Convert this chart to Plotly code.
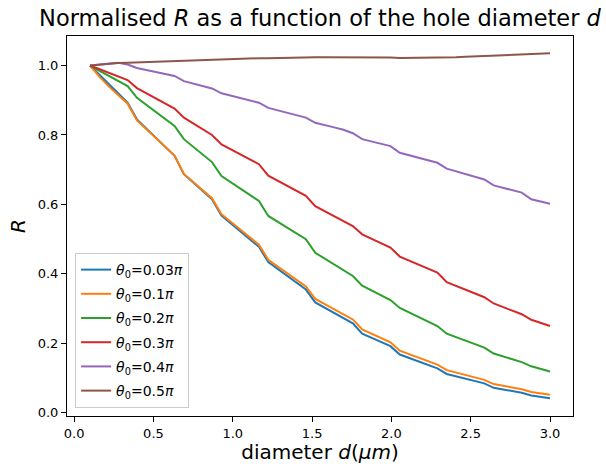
import plotly.graph_objects as go

# hole diameter d (um), 50 samples from 0.1 to 3.0
diameter = [0.100, 0.159, 0.218, 0.278, 0.337, 0.396, 0.455, 0.514, 0.573, 0.633,
            0.692, 0.751, 0.810, 0.869, 0.929, 0.988, 1.047, 1.106, 1.165, 1.224,
            1.284, 1.343, 1.402, 1.461, 1.520, 1.580, 1.639, 1.698, 1.757, 1.816,
            1.876, 1.935, 1.994, 2.053, 2.112, 2.171, 2.231, 2.290, 2.349, 2.408,
            2.467, 2.527, 2.586, 2.645, 2.704, 2.763, 2.822, 2.882, 2.941, 3.000]

# normalised R for each incidence angle theta_0
r_003 = [1.000, 0.973, 0.946, 0.920, 0.893, 0.845, 0.819, 0.792, 0.766, 0.740,
         0.687, 0.663, 0.639, 0.615, 0.568, 0.545, 0.523, 0.500, 0.478, 0.434,
         0.414, 0.395, 0.375, 0.355, 0.318, 0.303, 0.288, 0.273, 0.258, 0.228,
         0.216, 0.204, 0.192, 0.168, 0.158, 0.148, 0.138, 0.128, 0.112, 0.105,
         0.098, 0.091, 0.085, 0.072, 0.068, 0.063, 0.058, 0.050, 0.046, 0.042]
r_01 = [1.000, 0.968, 0.940, 0.915, 0.890, 0.842, 0.817, 0.791, 0.766, 0.741,
        0.688, 0.665, 0.641, 0.618, 0.572, 0.550, 0.528, 0.506, 0.484, 0.441,
        0.421, 0.402, 0.383, 0.364, 0.328, 0.313, 0.298, 0.283, 0.269, 0.240,
        0.227, 0.215, 0.203, 0.179, 0.169, 0.159, 0.149, 0.139, 0.123, 0.116,
        0.109, 0.102, 0.095, 0.083, 0.078, 0.073, 0.068, 0.060, 0.056, 0.052]
r_02 = [1.000, 0.985, 0.970, 0.955, 0.941, 0.907, 0.887, 0.866, 0.846, 0.826,
        0.788, 0.766, 0.744, 0.722, 0.682, 0.664, 0.646, 0.628, 0.610, 0.567,
        0.550, 0.533, 0.517, 0.500, 0.461, 0.444, 0.427, 0.411, 0.394, 0.366,
        0.352, 0.339, 0.325, 0.302, 0.289, 0.276, 0.263, 0.250, 0.228, 0.218,
        0.208, 0.198, 0.188, 0.171, 0.163, 0.154, 0.146, 0.134, 0.127, 0.119]
r_03 = [1.000, 0.990, 0.979, 0.969, 0.958, 0.935, 0.920, 0.906, 0.891, 0.876,
        0.850, 0.833, 0.817, 0.800, 0.773, 0.759, 0.744, 0.730, 0.716, 0.683,
        0.668, 0.654, 0.639, 0.625, 0.595, 0.581, 0.567, 0.552, 0.538, 0.514,
        0.501, 0.489, 0.476, 0.450, 0.439, 0.427, 0.416, 0.404, 0.376, 0.365,
        0.355, 0.344, 0.333, 0.315, 0.305, 0.294, 0.284, 0.268, 0.259, 0.250]
r_04 = [1.000, 1.003, 1.006, 1.008, 1.003, 0.993, 0.987, 0.982, 0.976, 0.970,
        0.955, 0.948, 0.941, 0.934, 0.920, 0.913, 0.907, 0.900, 0.893, 0.878,
        0.871, 0.864, 0.857, 0.850, 0.835, 0.829, 0.822, 0.815, 0.805, 0.788,
        0.781, 0.775, 0.768, 0.749, 0.742, 0.735, 0.727, 0.720, 0.703, 0.695,
        0.688, 0.680, 0.672, 0.655, 0.648, 0.641, 0.634, 0.615, 0.609, 0.602]
r_05 = [1.000, 1.003, 1.005, 1.007, 1.008, 1.009, 1.010, 1.011, 1.013, 1.014,
        1.014, 1.015, 1.016, 1.017, 1.018, 1.018, 1.019, 1.020, 1.021, 1.021,
        1.022, 1.022, 1.023, 1.023, 1.024, 1.024, 1.024, 1.025, 1.025, 1.024,
        1.024, 1.023, 1.023, 1.022, 1.022, 1.022, 1.023, 1.023, 1.023, 1.024,
        1.025, 1.026, 1.027, 1.028, 1.029, 1.030, 1.031, 1.032, 1.033, 1.035]

labels = ["0.03", "0.1", "0.2", "0.3", "0.4", "0.5"]
series = [r_003, r_01, r_02, r_03, r_04, r_05]
colors = ["#1f77b4", "#ff7f0e", "#2ca02c", "#d62728", "#9467bd", "#8c564b"]

FONT = "DejaVu Sans"

fig = go.Figure()
for lab, vals, col in zip(labels, series, colors):
    fig.add_trace(go.Scatter(
        x=diameter, y=vals, mode="lines",
        line=dict(color=col, width=2),
        name=f"<i>θ</i><sub>0</sub>={lab}<i>π</i>",
        legendgroup=lab,
    ))

axis_common = dict(
    showline=True, linecolor="black", linewidth=1, mirror=True,
    ticks="outside", ticklen=5, tickwidth=1, tickcolor="black",
    showgrid=False, zeroline=False, automargin=False,
    tickfont=dict(family=FONT, size=13, color="black"),
)

fig.update_layout(
    width=606, height=464,
    margin=dict(l=67, r=33, t=36, b=48),
    paper_bgcolor="white", plot_bgcolor="white",
    font=dict(family=FONT, color="black"),
    title=dict(
        text="Normalised <i>R</i> as a function of the hole diameter <i>d</i>",
        x=0.5, xref="paper", xanchor="center",
        y=1 - 18 / 464, yref="container", yanchor="middle",
        font=dict(family=FONT, size=22.5, color="black"),
    ),
    xaxis=dict(
        range=[-0.045, 3.145], tickmode="linear", tick0=0, dtick=0.5,
        tickformat=".1f",
        title=dict(text="diameter <i>d</i>(<i>μm</i>)",
                   font=dict(family=FONT, size=20, color="black"), standoff=6),
        **axis_common,
    ),
    yaxis=dict(
        range=[-0.009, 1.085], tickmode="linear", tick0=0, dtick=0.2,
        tickformat=".1f",
        title=dict(text="<i>R</i>",
                   font=dict(family=FONT, size=20, color="black"), standoff=6),
        **axis_common,
    ),
    legend=dict(
        x=0.016, y=0.021, xanchor="left", yanchor="bottom",
        bgcolor="rgba(255,255,255,0.8)", bordercolor="#cccccc", borderwidth=1,
        font=dict(family=FONT, size=14, color="black"),
        tracegroupgap=3, itemwidth=30,
    ),
)

fig.write_html("out.html")
